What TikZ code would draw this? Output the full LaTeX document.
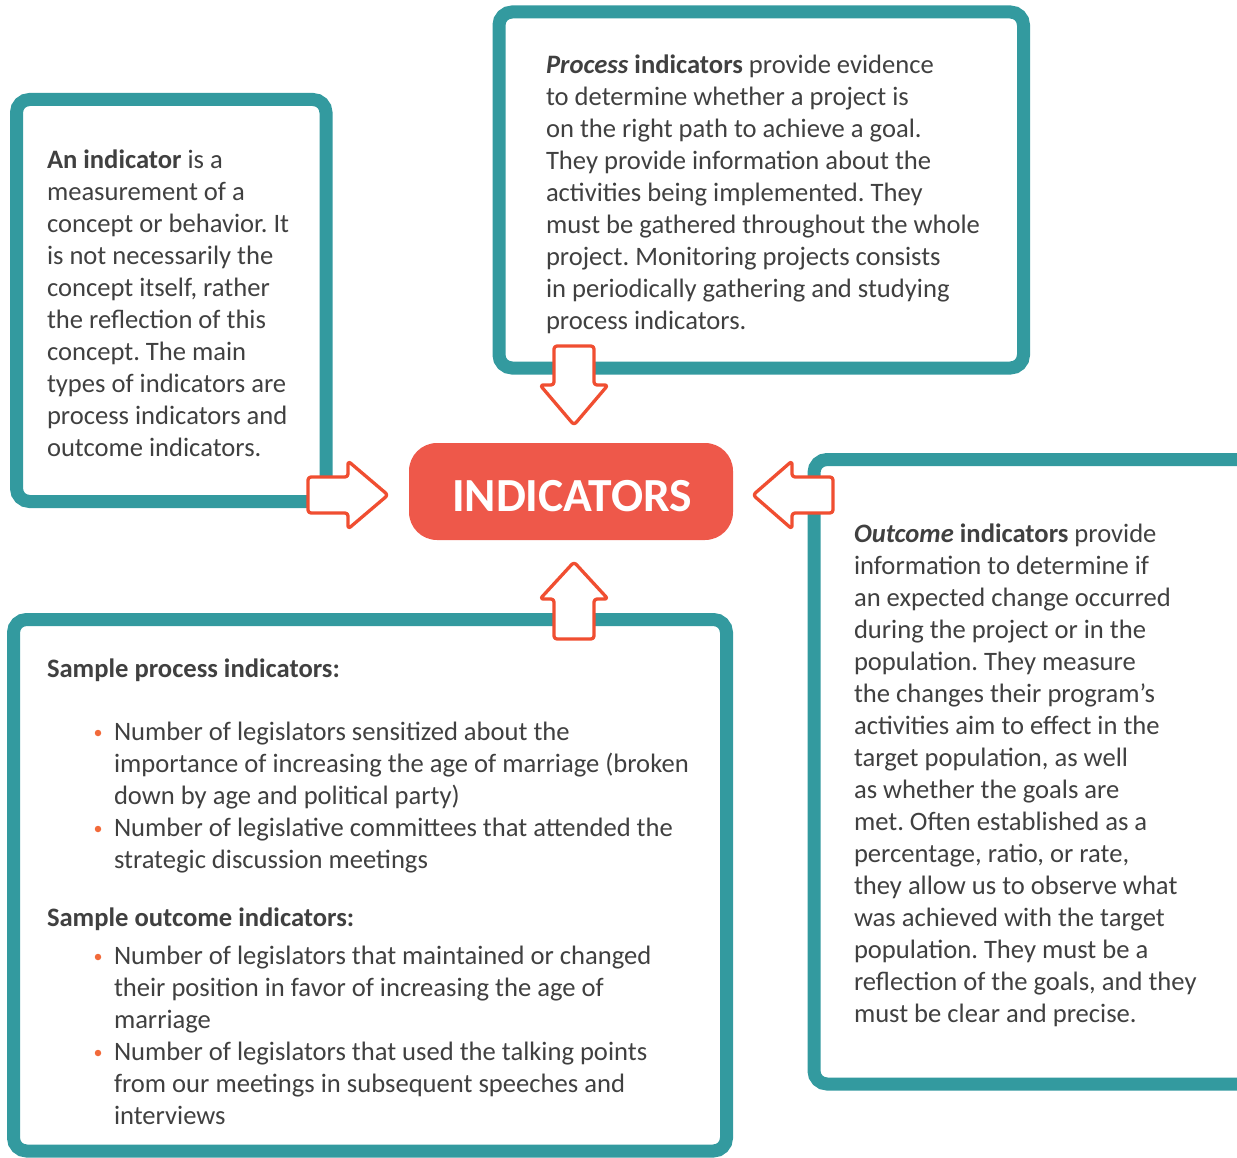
\documentclass[tikz,border=0pt]{standalone}
\usepackage{fontspec}
\setmainfont{Carlito}
\frenchspacing
\definecolor{teal1}{HTML}{339A9F}
\definecolor{redbox}{HTML}{EE584A}
\definecolor{arrowred}{HTML}{F04E31}
\definecolor{txt}{HTML}{404040}
\definecolor{bul}{HTML}{F26A3A}
\newcommand\txtblock[2]{\begin{minipage}[t]{#1pt}\fontsize{26.6}{32}\selectfont\frenchspacing\raggedright #2\end{minipage}}
\tikzset{
  frame/.style={draw=teal1, line width=13pt, rounded corners=13pt},
  blockarrow/.style={draw=arrowred, fill=white, line width=3.3pt, rounded corners=3pt, line join=round},
  tblock/.style={anchor=base west, inner sep=0pt, outer sep=0pt, text=txt},
  bulletdot/.style={circle, fill=bul, inner sep=0pt, minimum size=6.5pt},
}
\begin{document}
\begin{tikzpicture}[x=1pt,y=-1pt]
\useasboundingbox (0,0) rectangle (1237,1158);
\clip (0,0) rectangle (1237,1158);
% frames
\draw[frame] (16.5,99.5) rectangle (326,501.5);
\draw[frame] (499,12) rectangle (1023.5,368);
\draw[frame] (814,459.5) rectangle (1280,1084);
\draw[frame] (13.5,619.5) rectangle (726.5,1151);
% central box
\node[fill=redbox, rounded corners=28pt, minimum width=324pt, minimum height=97pt, inner sep=0pt] (ind) at (571,491.5) {};
\node[anchor=base, text=white, inner sep=0pt, font=\fontsize{47.5}{50}\selectfont\bfseries] (indtext) at (572,511) {INDICATORS};
% arrows
\draw[blockarrow] (308,477) -- (348,477) -- (348,461) -- (388,495) -- (348,529) -- (348,513) -- (308,513) -- cycle;
\draw[blockarrow] (554,346) -- (594,346) -- (594,385) -- (608,385) -- (574,425) -- (540,385) -- (554,385) -- cycle;
\draw[blockarrow] (554,639) -- (594,639) -- (594,599) -- (608,599) -- (574,562) -- (540,599) -- (554,599) -- cycle;
\draw[blockarrow] (833,477) -- (792,477) -- (792,461) -- (753,495) -- (792,529) -- (792,513) -- (833,513) -- cycle;
% left box text
\node[tblock] (t1) at (47,168.5) {\txtblock{280}{\textbf{An indicator} is a\\
measurement of a\\
concept or behavior. It\\
is not necessarily the\\
concept itself, rather\\
the reflection of this\\
concept. The main\\
types of indicators are\\
process indicators and\\
outcome indicators.}};
% top box text
\node[tblock] (t2) at (546,73.5) {\txtblock{470}{\textbf{\textit{Process} indicators} provide evidence\\
to determine whether a project is\\
on the right path to achieve a goal.\\
They provide information about the\\
activities being implemented. They\\
must be gathered throughout the whole\\
project. Monitoring projects consists\\
in periodically gathering and studying\\
process indicators.}};
% right box text
\node[tblock] (t3) at (854,542.5) {\txtblock{380}{\textbf{\textit{Outcome} indicators} provide\\
information to determine if\\
an expected change occurred\\
during the project or in the\\
population. They measure\\
the changes their program’s\\
activities aim to effect in the\\
target population, as well\\
as whether the goals are\\
met. Often established as a\\
percentage, ratio, or rate,\\
they allow us to observe what\\
was achieved with the target\\
population. They must be a\\
reflection of the goals, and they\\
must be clear and precise.}};
% bottom box text
\node[tblock] (h1) at (47,677) {\txtblock{600}{\textbf{Sample process indicators:}}};
\node[bulletdot] (b1) at (98,733) {};
\node[tblock] (i1) at (114,740.5) {\txtblock{600}{Number of legislators sensitized about the\\
importance of increasing the age of marriage (broken\\
down by age and political party)}};
\node[bulletdot] (b2) at (98,829) {};
\node[tblock] (i2) at (114,836.5) {\txtblock{600}{Number of legislative committees that attended the\\
strategic discussion meetings}};
\node[tblock] (h2) at (47,926.5) {\txtblock{600}{\textbf{Sample outcome indicators:}}};
\node[bulletdot] (b3) at (98,957) {};
\node[tblock] (i3) at (114,964.5) {\txtblock{600}{Number of legislators that maintained or changed\\
their position in favor of increasing the age of\\
marriage}};
\node[bulletdot] (b4) at (98,1053) {};
\node[tblock] (i4) at (114,1060.5) {\txtblock{600}{Number of legislators that used the talking points\\
from our meetings in subsequent speeches and\\
interviews}};
\end{tikzpicture}
\end{document}
